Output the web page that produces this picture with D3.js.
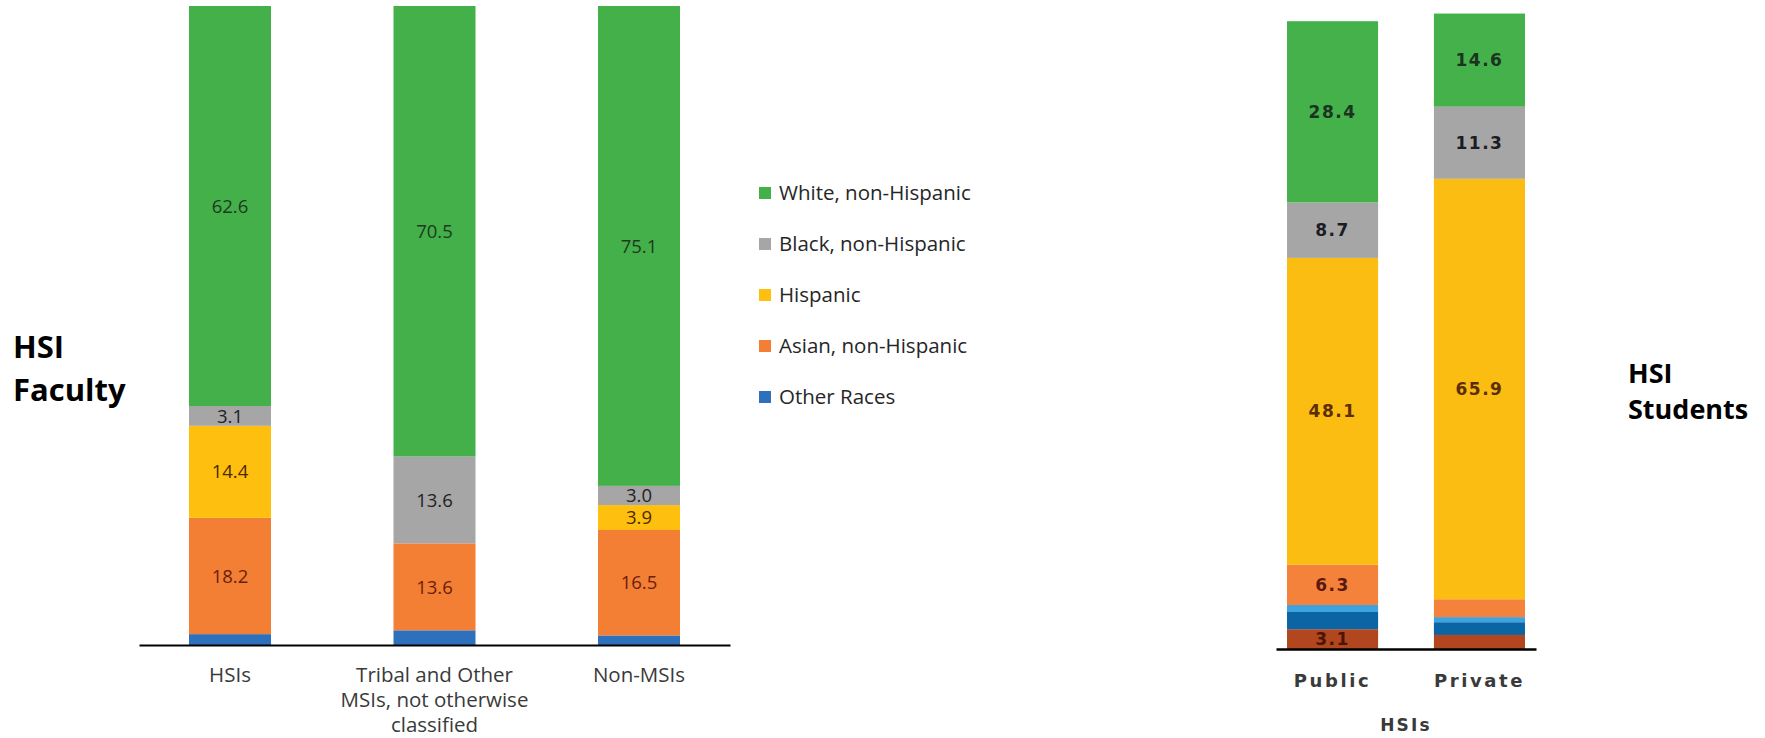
<!DOCTYPE html>
<html>
<head>
<meta charset="utf-8">
<script src="https://cdn.jsdelivr.net/npm/d3@7/dist/d3.min.js"></script>
<style>
  html, body { margin: 0; padding: 0; background: #ffffff; }
  svg { display: block; }
</style>
</head>
<body>
<svg id="chart" width="1765" height="738"></svg>
<script>
// ---------------- DATA ----------------
// Faculty chart (left)
const facultyCategories = ["HSIs", "Tribal and Other MSIs, not otherwise classified", "Non-MSIs"];
const facultyTickLines = [["HSIs"], ["Tribal and Other", "MSIs, not otherwise", "classified"], ["Non-MSIs"]];
const facultySeries = ["White, non-Hispanic", "Black, non-Hispanic", "Hispanic", "Asian, non-Hispanic", "Other Races"];
const facultyWhite    = [62.6, 70.5, 75.1];
const facultyBlack    = [3.1, 13.6, 3.0];
const facultyHispanic = [14.4, 0.0, 3.9];
const facultyAsian    = [18.2, 13.6, 16.5];
const facultyOther    = [1.7, 2.3, 1.5];

// Students chart (right)
const studentCategories = ["Public", "Private"];
const studentAxisTitle = "HSIs";
const studentSeries = ["White", "Black", "Hispanic", "Asian", "Other group A", "Other group B", "Other group C"];
const studentWhite    = [28.4, 14.6];
const studentBlack    = [8.7, 11.3];
const studentHispanic = [48.1, 65.9];
const studentAsian    = [6.3, 2.8];
const studentOtherA   = [1.1, 0.8];
const studentOtherB   = [2.7, 2.0];
const studentOtherC   = [3.1, 2.2];

const labelThreshold = 3;

// ---------------- STYLE ----------------
const facultyColors = {
  "White, non-Hispanic": "#44b04a",
  "Black, non-Hispanic": "#a6a6a6",
  "Hispanic": "#ffbf0f",
  "Asian, non-Hispanic": "#f37f35",
  "Other Races": "#2f70bd"
};
const facultyLabelColors = {
  "White, non-Hispanic": "#1f3a20",
  "Black, non-Hispanic": "#222222",
  "Hispanic": "#4a2a00",
  "Asian, non-Hispanic": "#6b1e0a",
  "Other Races": "#0d2240"
};
const studentColors = {
  "White": "#44b14b",
  "Black": "#a6a6a6",
  "Hispanic": "#fbbd12",
  "Asian": "#f5823a",
  "Other group A": "#3fa3df",
  "Other group B": "#0b65a5",
  "Other group C": "#b2461f"
};
const studentLabelColors = {
  "White": "#1b3320",
  "Black": "#1c1c24",
  "Hispanic": "#5b2e07",
  "Asian": "#5a1a10",
  "Other group A": "#0d2240",
  "Other group B": "#0d2240",
  "Other group C": "#4a1505"
};

const svg = d3.select("#chart");

// ---------------- LEFT: FACULTY ----------------
const facRows = facultyCategories.map((c, i) => ({
  cat: c,
  "White, non-Hispanic": facultyWhite[i],
  "Black, non-Hispanic": facultyBlack[i],
  "Hispanic": facultyHispanic[i],
  "Asian, non-Hispanic": facultyAsian[i],
  "Other Races": facultyOther[i]
}));
const facKeysBottomUp = facultySeries.slice().reverse();
const facStack = d3.stack().keys(facKeysBottomUp)(facRows);

const xL = d3.scaleBand().domain(facultyCategories).range([139, 730]).paddingInner(0.599).paddingOuter(0.2445);
const yL = d3.scaleLinear().domain([0, 100]).range([645, 6]);

const gL = svg.append("g");
const layersL = gL.selectAll("g.layer").data(facStack).join("g")
  .attr("fill", d => facultyColors[d.key]);
layersL.selectAll("rect").data(d => d.map(p => ({p, key: d.key}))).join("rect")
  .attr("x", d => xL(d.p.data.cat))
  .attr("width", xL.bandwidth())
  .attr("y", d => yL(d.p[1]))
  .attr("height", d => Math.max(0, yL(d.p[0]) - yL(d.p[1])));

facStack.forEach(layer => {
  layer.forEach(p => {
    const v = p[1] - p[0];
    if (v >= labelThreshold) {
      gL.append("text")
        .attr("x", xL(p.data.cat) + xL.bandwidth() / 2)
        .attr("y", (yL(p[0]) + yL(p[1])) / 2)
        .attr("dy", "0.36em")
        .attr("text-anchor", "middle")
        .attr("font-family", "'Open Sans', sans-serif")
        .attr("font-size", 18.5)
        .attr("fill", facultyLabelColors[layer.key])
        .text(d3.format(".1f")(v));
    }
  });
});

const axisL = gL.append("g")
  .attr("transform", `translate(0,${yL(0)})`)
  .call(d3.axisBottom(xL).tickSize(0).tickSizeOuter(0));
axisL.select(".domain").attr("stroke", "#000").attr("stroke-width", 2);
axisL.selectAll(".tick text").each(function(d, i) {
  const t = d3.select(this);
  t.text(null).attr("y", 0).attr("dy", null)
    .attr("font-family", "'Open Sans', sans-serif")
    .attr("font-size", 20.5)
    .attr("fill", "#3a3a3a");
  facultyTickLines[i].forEach((line, j) => {
    t.append("tspan").attr("x", 0).attr("y", 37 + j * 25).text(line);
  });
});

// Legend
const legend = svg.append("g");
const legendY = [193, 244, 295, 346, 397];
facultySeries.forEach((s, i) => {
  legend.append("rect").attr("x", 759).attr("y", legendY[i] - 6).attr("width", 12).attr("height", 12)
    .attr("fill", facultyColors[s]);
  legend.append("text").attr("x", 779).attr("y", legendY[i]).attr("dy", "0.36em")
    .attr("font-family", "'Open Sans', sans-serif").attr("font-size", 20.5)
    .attr("fill", "#262626").text(s);
});

// Left title
const titleL = svg.append("text").attr("font-family", "'Open Sans', sans-serif")
  .attr("font-weight", "bold").attr("font-size", 31).attr("fill", "#000");
titleL.append("tspan").attr("x", 13).attr("y", 358).text("HSI");
titleL.append("tspan").attr("x", 13).attr("y", 401).text("Faculty");

// ---------------- RIGHT: STUDENTS ----------------
const stuRows = studentCategories.map((c, i) => ({
  cat: c,
  "White": studentWhite[i],
  "Black": studentBlack[i],
  "Hispanic": studentHispanic[i],
  "Asian": studentAsian[i],
  "Other group A": studentOtherA[i],
  "Other group B": studentOtherB[i],
  "Other group C": studentOtherC[i]
}));
const stuKeysBottomUp = studentSeries.slice().reverse();
const stuStack = d3.stack().keys(stuKeysBottomUp)(stuRows);

const xR = d3.scaleBand().domain(studentCategories).range([1276, 1536]).paddingInner(0.38).paddingOuter(0.075);
const yR = d3.scaleLinear().domain([0, 100]).range([649, 11]);

const gR = svg.append("g");
const layersR = gR.selectAll("g.layer").data(stuStack).join("g")
  .attr("fill", d => studentColors[d.key]);
layersR.selectAll("rect").data(d => d.map(p => ({p, key: d.key}))).join("rect")
  .attr("x", d => xR(d.p.data.cat))
  .attr("width", xR.bandwidth())
  .attr("y", d => yR(d.p[1]))
  .attr("height", d => Math.max(0, yR(d.p[0]) - yR(d.p[1])));

stuStack.forEach(layer => {
  layer.forEach(p => {
    const v = p[1] - p[0];
    if (v >= labelThreshold) {
      gR.append("text")
        .attr("x", xR(p.data.cat) + xR.bandwidth() / 2)
        .attr("y", (yR(p[0]) + yR(p[1])) / 2)
        .attr("dy", "0.36em")
        .attr("text-anchor", "middle")
        .attr("font-family", "'DejaVu Sans', sans-serif")
        .attr("font-weight", "bold")
        .attr("font-size", 17)
        .attr("letter-spacing", 1.5)
        .attr("fill", studentLabelColors[layer.key])
        .text(d3.format(".1f")(v));
    }
  });
});

const axisR = gR.append("g")
  .attr("transform", `translate(0,${yR(0)})`)
  .call(d3.axisBottom(xR).tickSize(0).tickSizeOuter(0));
axisR.select(".domain").attr("stroke", "#000").attr("stroke-width", 2.5);
axisR.selectAll(".tick text")
  .attr("y", 38).attr("dy", null)
  .attr("font-family", "'DejaVu Sans', sans-serif")
  .attr("font-weight", "bold")
  .attr("font-size", 18)
  .attr("letter-spacing", 2.6)
  .attr("fill", "#3a3a3a");

gR.append("text")
  .attr("x", d3.mean(xR.range())).attr("y", 731)
  .attr("text-anchor", "middle")
  .attr("font-family", "'DejaVu Sans', sans-serif")
  .attr("font-weight", "bold")
  .attr("font-size", 17)
  .attr("letter-spacing", 2.2)
  .attr("fill", "#3a3a3a")
  .text(studentAxisTitle);

const titleR = svg.append("text").attr("font-family", "'Open Sans', sans-serif")
  .attr("font-weight", "bold").attr("font-size", 27).attr("fill", "#000");
titleR.append("tspan").attr("x", 1628).attr("y", 383).text("HSI");
titleR.append("tspan").attr("x", 1628).attr("y", 419).text("Students");
</script>
</body>
</html>
